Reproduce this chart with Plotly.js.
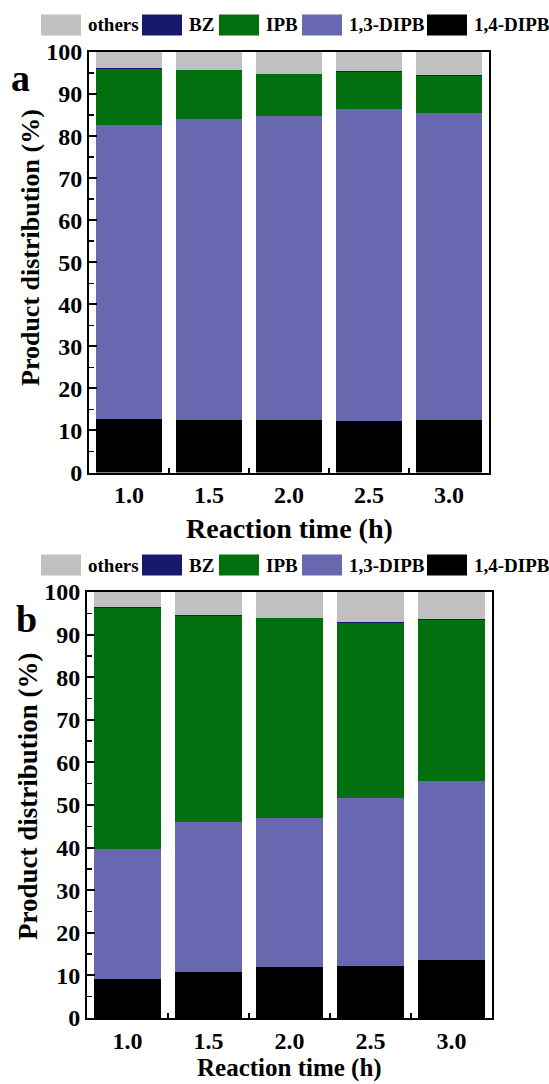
<!DOCTYPE html>
<html><head><meta charset="utf-8">
<script src="https://cdn.plot.ly/plotly-3.0.1.min.js"></script>
<style>html,body{margin:0;padding:0;background:#fff}</style>
</head><body><div id="chart" style="width:549px;height:1084px"></div>
<script>
// ---- data ----
const reactionTime = [1.0, 1.5, 2.0, 2.5, 3.0];
const tickLabels = ['1.0', '1.5', '2.0', '2.5', '3.0'];
const seriesNames = ['1,4-DIPB', '1,3-DIPB', 'IPB', 'BZ', 'others'];
const yTickValues = [0, 10, 20, 30, 40, 50, 60, 70, 80, 90, 100];

const a_DIPB14 = [12.7, 12.5, 12.4, 12.2, 12.4];
const a_DIPB13 = [70.0, 71.6, 72.3, 74.2, 73.2];
const a_IPB    = [13.2, 11.6, 10.0, 8.9, 8.7];
const a_BZ     = [0.3, 0.1, 0.1, 0.1, 0.2];
const a_others = [3.8, 4.2, 5.2, 4.6, 5.5];

const b_DIPB14 = [9.2, 10.9, 12.0, 12.3, 13.5];
const b_DIPB13 = [30.4, 35.1, 34.9, 39.3, 42.2];
const b_IPB    = [56.6, 48.3, 47.0, 41.2, 37.7];
const b_BZ     = [0.2, 0.2, 0.1, 0.2, 0.2];
const b_others = [3.6, 5.5, 6.0, 7.0, 6.4];

// ---- style ----
const W = 549, H = 1084;
const FONT = "'Liberation Serif', 'Times New Roman', serif";
const colors = {'1,4-DIPB': '#000000', '1,3-DIPB': '#6768b0', 'IPB': '#037010', 'BZ': '#18186e', 'others': '#c0c0c0'};
const px = x => x / W;
const py = y => 1 - y / H;

const panels = [
  {series: [a_DIPB14, a_DIPB13, a_IPB, a_BZ, a_others], xa: 'x', ya: 'y',
   xdom: [89, 489], ydom: [472.5, 52], legendY: 25, label: 'a', labelPos: [20, 78], labelSize: 38,
   ytitle: {x: 30, y: 248, size: 26}, xtitle: {y: 528, size: 28}},
  {series: [b_DIPB14, b_DIPB13, b_IPB, b_BZ, b_others], xa: 'x2', ya: 'y2',
   xdom: [87, 492], ydom: [1018, 592], legendY: 565, label: 'b', labelPos: [26, 619], labelSize: 38,
   ytitle: {x: 28, y: 796, size: 27}, xtitle: {y: 1068, size: 25}}
];

const traces = [];
const shapes = [];
const annotations = [];
const legendSwatchX = [41, 142, 219, 302, 427];
const legendOrder = seriesNames.slice().reverse();
const midTicks = reactionTime.slice(0, -1).map((t, i) => (t + reactionTime[i + 1]) / 2);

const layout = {
  width: W, height: H, margin: {l: 0, r: 0, t: 0, b: 0},
  paper_bgcolor: '#fff', plot_bgcolor: '#fff',
  barmode: 'stack', bargap: 0.18, showlegend: false,
  font: {family: FONT, color: '#000', weight: 'bold'},
  shapes: shapes, annotations: annotations
};

panels.forEach((p, pi) => {
  p.series.forEach((vals, si) => {
    traces.push({
      type: 'bar', x: reactionTime, y: vals, name: seriesNames[si],
      xaxis: p.xa, yaxis: p.ya,
      marker: {color: colors[seriesNames[si]], line: {width: 0}},
      hoverinfo: 'name+y'
    });
  });
  const xKey = pi === 0 ? 'xaxis' : 'xaxis2';
  const yKey = pi === 0 ? 'yaxis' : 'yaxis2';
  layout[xKey] = {
    domain: [px(p.xdom[0]), px(p.xdom[1])], anchor: p.ya,
    range: [0.75, 3.25], tickmode: 'array', tickvals: reactionTime, ticktext: tickLabels,
    ticks: '', showline: true, linewidth: 2, linecolor: '#000', mirror: true,
    showgrid: false, zeroline: false, automargin: false, ticklabelstandoff: 0,
    tickfont: {family: FONT, size: 24, weight: 'bold', color: '#000'},
    minor: {tickmode: 'array', tickvals: midTicks, ticks: 'inside', ticklen: 5, tickwidth: 1.5, tickcolor: '#000', showgrid: false},
    layer: 'above traces'
  };
  layout[yKey] = {
    domain: [py(p.ydom[0]), py(p.ydom[1])], anchor: p.xa,
    range: [0, 100], tickmode: 'array', tickvals: yTickValues,
    ticks: 'inside', ticklen: 8, tickwidth: 2, tickcolor: '#000',
    showline: true, linewidth: 2, linecolor: '#000', mirror: true,
    showgrid: false, zeroline: false, automargin: false, ticklabelstandoff: 0,
    tickfont: {family: FONT, size: 24, weight: 'bold', color: '#000'},
    minor: {tick0: 5, dtick: 10, ticks: 'inside', ticklen: 5, tickwidth: 1.5, tickcolor: '#000', showgrid: false},
    layer: 'above traces'
  };
  // legend row
  legendOrder.forEach((name, i) => {
    const x0 = legendSwatchX[i];
    shapes.push({type: 'rect', xref: 'paper', yref: 'paper',
      x0: px(x0), x1: px(x0 + 40), y0: py(p.legendY + 10.5), y1: py(p.legendY - 10.5),
      fillcolor: colors[name], line: {width: 0}});
    annotations.push({xref: 'paper', yref: 'paper', x: px(x0 + 45), y: py(p.legendY),
      xanchor: 'left', yanchor: 'middle', showarrow: false, text: name,
      font: {family: FONT, size: 19, weight: 'bold', color: '#000'}});
  });
  // panel label
  annotations.push({xref: 'paper', yref: 'paper', x: px(p.labelPos[0]), y: py(p.labelPos[1]),
    xanchor: 'center', yanchor: 'middle', showarrow: false, text: p.label,
    font: {family: FONT, size: p.labelSize, weight: 'bold', color: '#000'}});
  // axis titles
  annotations.push({xref: 'paper', yref: 'paper', x: px(p.ytitle.x), y: py(p.ytitle.y),
    xanchor: 'center', yanchor: 'middle', showarrow: false, textangle: -90,
    text: 'Product distribution (%)',
    font: {family: FONT, size: p.ytitle.size, weight: 'bold', color: '#000'}});
  annotations.push({xref: 'paper', yref: 'paper', x: px((p.xdom[0] + p.xdom[1]) / 2), y: py(p.xtitle.y),
    xanchor: 'center', yanchor: 'middle', showarrow: false,
    text: 'Reaction time (h)',
    font: {family: FONT, size: p.xtitle.size, weight: 'bold', color: '#000'}});
});

Plotly.newPlot('chart', traces, layout, {displayModeBar: false, staticPlot: true});
</script></body></html>
